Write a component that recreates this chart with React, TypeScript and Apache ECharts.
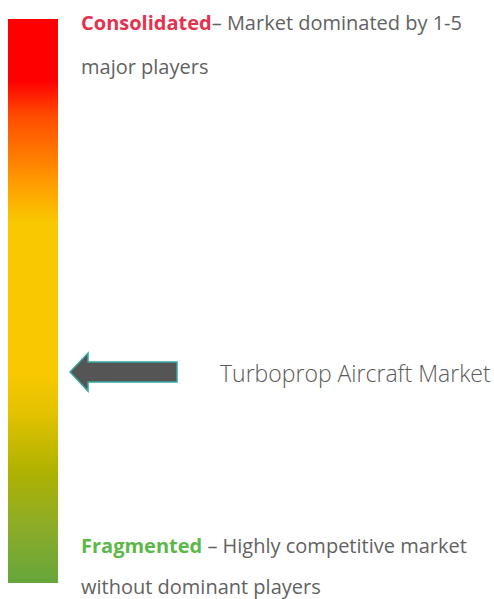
import React, { useEffect, useRef } from "react";
import * as echarts from "echarts";

// Concentration scale: 0 = fragmented (bottom), 1 = consolidated (top)
const scaleCategories = ["Market concentration"];
const scaleValues = [1];
const markets = ["Turboprop Aircraft Market"];
const marketLevels = [0.374];

const topLabel = ["Consolidated", "– Market dominated by 1-5", "major players"];
const bottomLabel = ["Fragmented", " – Highly competitive market", "without dominant players"];

const FONT = "'Open Sans', Lato, sans-serif";

export default function App() {
  const ref = useRef<HTMLDivElement>(null);

  useEffect(() => {
    if (!ref.current) return;
    const chart = echarts.init(ref.current, null, { renderer: "svg" });

    const gradient = new echarts.graphic.LinearGradient(0, 0, 0, 1, [
      { offset: 0, color: "#FF0000" },
      { offset: 0.11, color: "#FF0000" },
      { offset: 0.17, color: "#FF4A00" },
      { offset: 0.25, color: "#FF8000" },
      { offset: 0.3, color: "#FFA200" },
      { offset: 0.36, color: "#F8C800" },
      { offset: 0.63, color: "#F8C800" },
      { offset: 0.7, color: "#E2C200" },
      { offset: 0.8, color: "#B0B200" },
      { offset: 0.9, color: "#8CAC28" },
      { offset: 1, color: "#66A63C" },
    ]);

    chart.setOption({
      animation: false,
      grid: { left: 8, top: 19, width: 50, height: 564 },
      xAxis: { type: "category", data: scaleCategories, show: false },
      yAxis: { type: "value", min: 0, max: 1, show: false },
      series: [
        {
          type: "bar",
          data: scaleValues,
          barWidth: 50,
          itemStyle: { color: gradient },
          silent: true,
        },
      ],
    });

    const arrows: any[] = [];
    const labels: any[] = [];
    markets.forEach((name, i) => {
      const y = chart.convertToPixel({ yAxisIndex: 0 }, marketLevels[i]) as number;
      const tipX = 70;
      const headX = 88;
      const endX = 177;
      arrows.push({
        type: "polygon",
        shape: {
          points: [
            [tipX, y],
            [headX, y - 19],
            [headX, y - 10],
            [endX, y - 10],
            [endX, y + 10],
            [headX, y + 10],
            [headX, y + 19],
          ],
        },
        style: { fill: "#555555", stroke: "#3AA6A6", lineWidth: 1.5 },
      });
      labels.push({
        type: "text",
        x: 220,
        y: y + 1,
        style: {
          text: name,
          font: `300 23px ${FONT}`,
          fill: "#5a5a5a",
          verticalAlign: "middle",
        },
      });
    });

    chart.setOption({
      graphic: [
        ...arrows,
        ...labels,
        {
          type: "text",
          x: 81,
          y: 22,
          style: {
            text: `{h|${topLabel[0]}}{t|${topLabel[1]}}`,
            verticalAlign: "middle",
            rich: {
              h: { font: `bold 20px ${FONT}`, fill: "#E4324F" },
              t: { font: `20px ${FONT}`, fill: "#626262" },
            },
          },
        },
        {
          type: "text",
          x: 81,
          y: 66,
          style: {
            text: topLabel[2],
            verticalAlign: "middle",
            font: `20px ${FONT}`,
            fill: "#626262",
          },
        },
        {
          type: "text",
          x: 81,
          y: 545,
          style: {
            text: `{h|${bottomLabel[0]}}{t|${bottomLabel[1]}}`,
            verticalAlign: "middle",
            rich: {
              h: { font: `bold 20px ${FONT}`, fill: "#5CB848" },
              t: { font: `20px ${FONT}`, fill: "#626262" },
            },
          },
        },
        {
          type: "text",
          x: 81,
          y: 586,
          style: {
            text: bottomLabel[2],
            verticalAlign: "middle",
            font: `20px ${FONT}`,
            fill: "#626262",
          },
        },
      ],
    });

    return () => chart.dispose();
  }, []);

  return (
    <div
      ref={ref}
      style={{ position: "fixed", left: 0, top: 0, width: 494, height: 599, background: "#fff" }}
    />
  );
}
